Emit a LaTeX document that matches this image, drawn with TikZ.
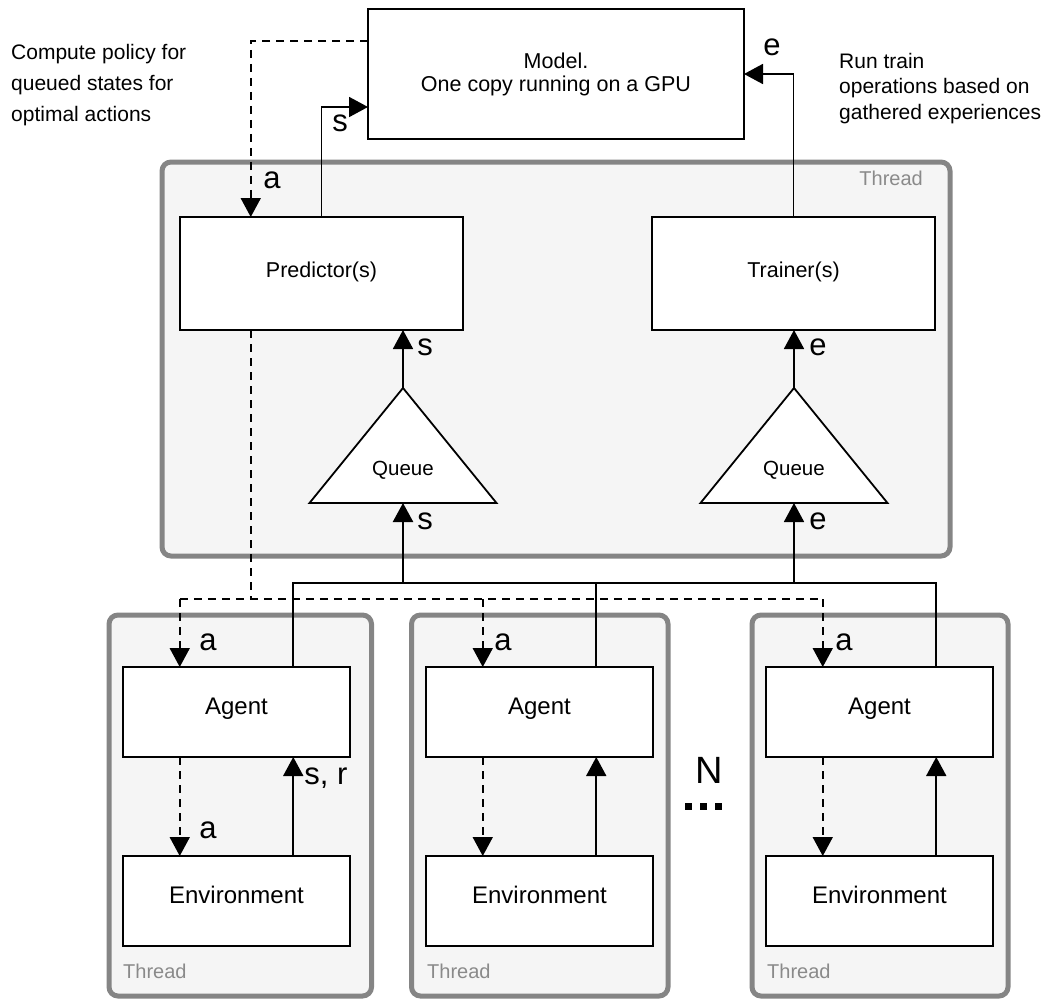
\documentclass[tikz,border=0pt]{standalone}
\usepackage{fontspec}
\setmainfont{Liberation Sans}
\usetikzlibrary{arrows.meta,calc}
\definecolor{thrborder}{RGB}{133,133,133}
\definecolor{thrfill}{RGB}{245,245,245}
\definecolor{thrtext}{RGB}{138,138,138}
\begin{document}
\begin{tikzpicture}[x=1pt,y=-1pt,
  box/.style={draw, line width=1.8pt, fill=white, inner sep=0pt, outer sep=0pt, anchor=north west},
  predbox/.style={box, minimum width=283pt, minimum height=113pt, font=\fontsize{21.5}{25}\selectfont, text height=16pt, text depth=9pt},
  agentbox/.style={box, minimum width=227pt, minimum height=90pt, font=\fontsize{24}{28}\selectfont, text height=17pt, text depth=13pt},
  container/.style={draw=thrborder, fill=thrfill, line width=5pt, rounded corners=9pt},
  thrlabel/.style={text=thrtext, font=\fontsize{20}{24}\selectfont, inner sep=0pt},
  lbl/.style={font=\fontsize{31}{36}\selectfont, inner sep=0pt},
  queuetext/.style={font=\fontsize{20.5}{24}\selectfont, inner sep=0pt, anchor=base},
  sidetext/.style={align=left, inner sep=0pt, anchor=north west},
  conn/.style={line width=1.8pt},
  arr/.style={conn, -{Triangle[length=19pt,width=20pt]}},
  dconn/.style={conn, dash pattern=on 8pt off 6pt},
  darr/.style={dconn, -{Triangle[length=19pt,width=20pt]}},
  queueshape/.style={conn, fill=white, line join=miter},
]
\useasboundingbox (0,0) rectangle (1049,999);

% containers
\draw[container] (162,162) rectangle (950,556);
\draw[container] (109,615) rectangle (371.5,996);
\draw[container] (411.5,615) rectangle (668,996);
\draw[container] (752,615) rectangle (1008,996);

% thread labels
\node[thrlabel, anchor=base east] (t0) at (923,185) {Thread};
\node[thrlabel, anchor=base west] (t1) at (123,978) {Thread};
\node[thrlabel, anchor=base west] (t2) at (427,978) {Thread};
\node[thrlabel, anchor=base west] (t3) at (767,978) {Thread};

% side texts
\node[sidetext, font=\fontsize{21}{31}\selectfont] (ltext) at (11,44) {Compute policy for\\queued states for\\optimal actions};
\node[sidetext, font=\fontsize{21}{25.5}\selectfont] (rtext) at (839,53) {Run train\\operations based on\\gathered experiences};

% model
\node[box, minimum width=376pt, minimum height=130pt, align=center, font=\fontsize{21.5}{23}\selectfont] (model) at (368,9) {Model.\\One copy running on a GPU};

% predictor / trainer
\node[predbox] (pred) at (180,217) {Predictor(s)};
\node[predbox] (train) at (652,217) {Trainer(s)};

% queues
\coordinate (q1top) at (403,388);
\coordinate (q1bot) at (403,503);
\coordinate (q2top) at (794,388);
\coordinate (q2bot) at (794,503);
\draw[queueshape] (q1top) -- (496.5,503) -- (309.5,503) -- cycle;
\draw[queueshape] (q2top) -- (887.5,503) -- (700.5,503) -- cycle;
\node[queuetext] (q1) at (403,475) {Queue};
\node[queuetext] (q2) at (794,475) {Queue};

% agents and environments
\node[agentbox] (a1) at (123,667) {Agent};
\node[agentbox] (a2) at (426,667) {Agent};
\node[agentbox] (a3) at (766,667) {Agent};
\node[agentbox] (e1) at (123,856) {Environment};
\node[agentbox] (e2) at (426,856) {Environment};
\node[agentbox] (e3) at (766,856) {Environment};

% helper coordinates
\coordinate (mA) at (368,41);
\coordinate (mS) at (368,107);
\coordinate (sbus) at (0,583);
\coordinate (dbus) at (0,599);
\coordinate (pd) at ($(pred.south west)!0.25!(pred.south east)$);
\foreach \i in {1,2,3}{
  \coordinate (a\i d) at ($(a\i.north west)!0.25!(a\i.north east)$);
  \coordinate (a\i s) at ($(a\i.north west)!0.75!(a\i.north east)$);
  \coordinate (a\i dd) at ($(a\i.south west)!0.25!(a\i.south east)$);
  \coordinate (e\i s) at ($(e\i.north west)!0.75!(e\i.north east)$);
}

% model connections
\draw[darr] (mA) -| ($(pred.north west)!0.25!(pred.north east)$);
\draw[arr] (pred.north) |- (mS);
\draw[arr] (train.north) |- (model.east);

% queue connections
\draw[arr] (q1top) -- (q1top |- pred.south);
\draw[arr] (q2top) -- (q2top |- train.south);
\draw[arr, line width=2.4pt] (q1bot |- sbus) -- (q1bot);
\draw[arr] (q2bot |- sbus) -- (q2bot);

% solid bus from agents
\draw[conn] (a1s) |- (a3s |- sbus) -- (a3s);
\draw[conn] (a2s) -- (a2s |- sbus);

% dashed bus to agents
\draw[dconn] (pd) -- (pd |- dbus);
\draw[dconn] (a1d |- dbus) -- (a3d |- dbus);
\foreach \i in {1,2,3}{
  \draw[darr] (a\i d |- dbus) -- (a\i d);
  \draw[darr] (a\i dd) -- (a\i dd |- e\i.north);
  \draw[arr] (e\i s) -- (e\i s |- a\i.south);
}

% labels
\node[lbl] (la0) at (272,180) {a};
\node[lbl] (ls0) at (340,123) {s};
\node[lbl] (le0) at (772,47) {e};
\node[lbl] (ls1) at (425,347) {s};
\node[lbl] (ls2) at (425,521) {s};
\node[lbl] (le1) at (818,347) {e};
\node[lbl] (le2) at (818,521) {e};
\node[lbl] (la1) at (208,642) {a};
\node[lbl] (la2) at (503,642) {a};
\node[lbl] (la3) at (844,642) {a};
\node[lbl] (la4) at (208,830) {a};
\node[lbl] (lsr) at (326,778) {s, r};

% N with dots
\node[font=\fontsize{38}{44}\selectfont, inner sep=0pt] (N) at (709,770) {N};
\draw[line width=7pt, dash pattern=on 7pt off 8pt] (685,806) -- (723,806);
\end{tikzpicture}
\end{document}
